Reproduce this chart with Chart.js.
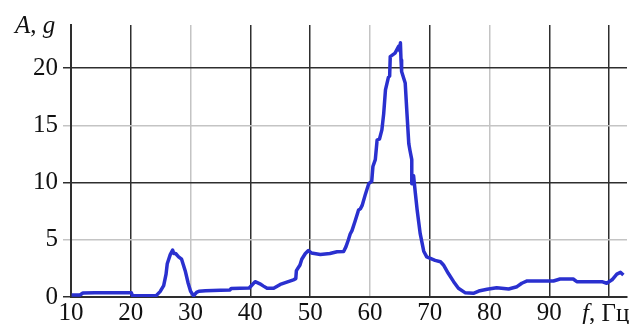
<!DOCTYPE html>
<html>
<head>
<meta charset="utf-8">
<script src="https://cdn.jsdelivr.net/npm/chart.js@4"></script>
<style>
  body { margin: 0; background: #fff; }
  #wrap { width: 633px; height: 324px; position: relative; }
</style>
</head>
<body>
<div id="wrap"><canvas id="specChart"></canvas></div>
<script>
// frequency, Hz
var freq = [10.1, 11.5, 12.0, 14, 17, 20.1, 20.3, 24.2, 24.9, 25.5, 25.9, 26.1, 26.6, 27.0, 27.2, 27.5,
  28.0, 28.5, 28.8, 29.1, 29.6, 30.0, 30.5, 31.0, 31.4, 32.5, 35.0, 36.6, 36.8, 39.8, 40.2, 40.8,
  41.6, 42.2, 42.8, 43.9, 45.0, 46.1, 47.2, 47.6, 47.7, 48.3, 48.6, 49.2, 49.7, 50.2, 51.7, 53.3,
  54.5, 55.6, 56.0, 56.4, 56.7, 57.0, 57.5, 58.1, 58.4, 58.7, 59.2, 59.8, 60.3, 60.5, 60.9, 61.2,
  61.6, 62.0, 62.3, 62.6, 63.1, 63.3, 63.4, 64.2, 64.8, 65.0, 65.1, 65.2, 65.3, 65.9, 66.2, 66.5,
  66.7, 67.0, 67.0, 67.3, 67.6, 67.9, 68.4, 69.0, 69.5, 70.1, 70.9, 71.8, 72.3, 73.1, 74.0, 74.8,
  75.9, 77.3, 78.2, 79.6, 81.2, 83.2, 84.6, 85.4, 86.3, 90.7, 91.8, 94.0, 94.6, 98.8, 99.6, 100.5,
  101.3, 101.9, 102.4];
// amplitude, g
var amp = [0.17, 0.17, 0.35, 0.37, 0.37, 0.37, 0.1, 0.1, 0.47, 1.0, 2.0, 2.9, 3.7, 4.1, 3.8, 3.8,
  3.5, 3.3, 2.8, 2.3, 1.2, 0.5, 0.1, 0.4, 0.5, 0.55, 0.6, 0.62, 0.75, 0.78, 1.0, 1.34,
  1.15, 0.95, 0.76, 0.76, 1.1, 1.3, 1.5, 1.6, 2.3, 2.8, 3.3, 3.8, 4.05, 3.85, 3.72, 3.8,
  3.95, 3.98, 4.4, 5.0, 5.5, 5.8, 6.6, 7.6, 7.7, 8.0, 8.9, 9.9, 10.1, 11.4, 12.0, 13.7,
  13.8, 14.6, 16.0, 18.1, 19.2, 19.3, 21.0, 21.3, 21.9, 21.5, 22.2, 20.7, 19.7, 18.7, 16.0, 13.4,
  12.8, 12.0, 9.9, 10.6, 9.06, 7.6, 5.56, 4.0, 3.5, 3.38, 3.2, 3.08, 2.8, 2.07, 1.34, 0.76,
  0.38, 0.32, 0.52, 0.67, 0.81, 0.7, 0.9, 1.2, 1.4, 1.4, 1.57, 1.57, 1.34, 1.34, 1.2, 1.5,
  2.0, 2.15, 1.92];
var xTicks = [10, 20, 30, 40, 50, 60, 70, 80, 90, 100];
var yTicks = [0, 5, 10, 15, 20];
var xDark = [10, 20, 40, 50, 70, 90, 100];
var yDark = [0, 10, 20];

var DARK = '#2e2e2e', LIGHT = '#c4c4c4';
var serif = "'Liberation Serif', 'DejaVu Serif', serif";

var points = freq.map(function (f, i) { return { x: f, y: amp[i] }; });

var axisLabels = {
  id: 'axisLabels',
  afterDraw: function (chart) {
    var c = chart.ctx;
    c.save();
    c.fillStyle = '#111';
    c.textBaseline = 'alphabetic';
    c.textAlign = 'left';
    // "A, g" at the top of the y axis
    var it = 'italic 25px ' + serif, up = '25px ' + serif;
    var x = 15, y = 33;
    c.font = it; c.fillText('A', x, y); x += c.measureText('A').width;
    c.font = up; c.fillText(', ', x, y); x += c.measureText(', ').width;
    c.font = it; c.fillText('g', x, y);
    // "f, Гц" in place of the 100 tick label
    x = 582; y = 321;
    c.font = it; c.fillText('f', x, y); x += c.measureText('f').width;
    c.font = up; c.fillText(', Гц', x, y);
    c.restore();
  }
};

var ctx = document.getElementById('specChart');

var specChart = new Chart(ctx, {
  type: 'line',
  data: {
    datasets: [{
      data: points,
      borderColor: '#2a30cf',
      borderWidth: 3.5,
      borderJoinStyle: 'round',
      pointRadius: 0,
      tension: 0,
      fill: false
    }]
  },
  options: {
    responsive: true,
    maintainAspectRatio: false,
    animation: false,
    layout: { padding: { top: 25, right: 6, left: 0, bottom: 0 } },
    plugins: { legend: { display: false }, tooltip: { enabled: false } },
    scales: {
      x: {
        type: 'linear',
        min: 10,
        max: 103,
        afterBuildTicks: function (axis) {
          axis.ticks = xTicks.map(function (v) { return { value: v }; });
        },
        afterFit: function (axis) { axis.height = 27; },
        ticks: {
          font: { family: serif, size: 25 },
          color: '#111',
          padding: 1,
          maxRotation: 0,
          autoSkip: false,
          callback: function (v) { return v === 100 ? '' : v; }
        },
        grid: {
          drawTicks: false,
          lineWidth: 1.5,
          color: function (c) { return xDark.indexOf(c.tick.value) >= 0 ? DARK : LIGHT; }
        },
        border: { color: DARK, width: 2 }
      },
      y: {
        min: 0,
        max: 23.76,
        afterBuildTicks: function (axis) {
          axis.ticks = yTicks.map(function (v) { return { value: v }; });
        },
        afterFit: function (axis) { axis.width = 71; },
        ticks: {
          font: { family: serif, size: 25 },
          color: '#111',
          padding: 5
        },
        grid: {
          tickLength: 8,
          lineWidth: 1.5,
          color: function (c) { return yDark.indexOf(c.tick.value) >= 0 ? DARK : LIGHT; }
        },
        border: { color: DARK, width: 2 }
      }
    }
  },
  plugins: [axisLabels]
});
</script>
</body>
</html>
